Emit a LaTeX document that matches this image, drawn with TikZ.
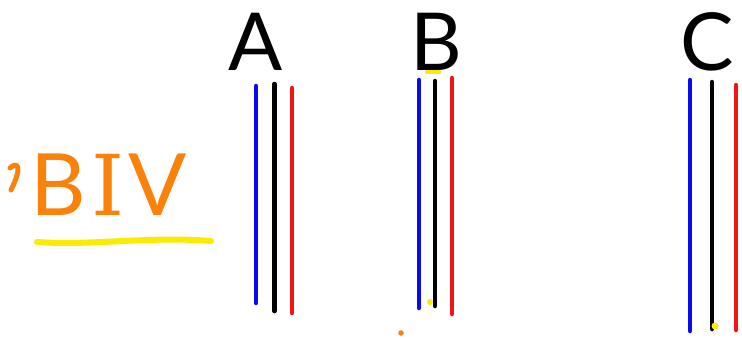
\documentclass[tikz,border=0pt]{standalone}
\usepackage{fontspec}
\setmainfont{Lato}
\newfontfamily\slabfont{DejaVu Serif}
\definecolor{penblue}{RGB}{10,10,240}
\definecolor{penred}{RGB}{240,20,20}
\definecolor{penorange}{RGB}{250,130,10}
\definecolor{penyellow}{RGB}{250,235,0}
\tikzset{
  wire/.style={line width=4.5pt,line cap=round},
  bigletter/.style={anchor=base,inner sep=0pt,font=\fontsize{80}{80}\selectfont},
  dot/.style={circle,inner sep=0pt,minimum size=6pt}
}
\begin{document}
\begin{tikzpicture}[x=1pt,y=-1pt]
\useasboundingbox[fill=white] (0,0) rectangle (742,338);
% labels
\node[bigletter] (lA) at (256,70) {A};
\node[bigletter] (lB) at (436,70) {B};
\node[bigletter] (lC) at (707,70) {C};
% group A
\coordinate (a1t) at (256,86);  \coordinate (a1b) at (256,303);
\coordinate (a2t) at (274.5,84);  \coordinate (a2b) at (274.5,311);
\coordinate (a3t) at (292,88);  \coordinate (a3b) at (292,313);
\draw[wire,penblue] (a1t) -- (a1b);
\draw[wire,black] (a2t) -- (a2b);
\draw[wire,penred] (a3t) -- (a3b);
% group B
\coordinate (b1t) at (419,80);  \coordinate (b1b) at (419,308);
\coordinate (b2t) at (435,81);  \coordinate (b2b) at (435,306);
\coordinate (b3t) at (452,78);  \coordinate (b3b) at (452,314);
\draw[wire,penblue] (b1t) -- (b1b);
\draw[wire,black] (b2t) -- (b2b);
\draw[wire,penred] (b3t) -- (b3b);
\coordinate (by1) at (427,72); \coordinate (by2) at (439,72);
\draw[wire,penyellow] (by1) -- (by2);
\node[dot,fill=penyellow,minimum size=6pt] (ydotB) at (430,302) {};
\node[dot,fill=penorange,minimum size=5.5pt] (odot) at (401,333) {};
% group C
\coordinate (c1t) at (690,80);  \coordinate (c1b) at (690,331);
\coordinate (c2t) at (712,82);  \coordinate (c2b) at (712,329);
\coordinate (c3t) at (736,85);  \coordinate (c3b) at (736,330);
\draw[wire,penblue] (c1t) -- (c1b);
\draw[wire,black] (c2t) -- (c2b);
\draw[wire,penred] (c3t) -- (c3b);
\node[dot,fill=penyellow,minimum size=7pt] (ydotC) at (715,326) {};
% BIV
\node[anchor=base west,inner sep=0pt,text=penorange,font=\fontsize{86}{86}\selectfont] (biv) at (30,215) {B\kern6pt{\slabfont\fontsize{84}{84}\selectfont I}\kern4pt V};
\coordinate (f1) at (10,168); \coordinate (f2) at (11,190);
\draw[line width=5pt,line cap=round,line join=round,penorange] (f1) .. controls (16,162) and (24,164) .. (f2);
\coordinate (u1) at (37,242); \coordinate (u2) at (211,241);
\draw[line width=6pt,line cap=round,penyellow] (u1) .. controls (90,246) and (150,236) .. (u2);
\end{tikzpicture}
\end{document}
